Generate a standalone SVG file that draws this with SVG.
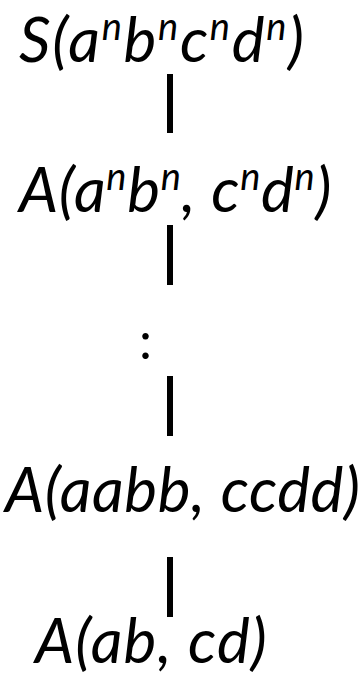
<svg xmlns="http://www.w3.org/2000/svg" width="364" height="677" viewBox="0 0 364 677">
<style>
.t{font-family:Lato,"Open Sans","Liberation Sans",sans-serif;font-style:italic;font-size:62px;fill:#000}
.u{font-style:normal;font-size:52px}
.s{font-size:38px}
.bar{fill:#000}
</style>
<rect width="364" height="677" fill="#fff"/>
<g id="connectors">
<rect class="bar" x="167" y="74" width="6" height="59"/>
<rect class="bar" x="167" y="225" width="6" height="60"/>
<rect class="bar" x="167" y="376" width="6" height="60"/>
<rect class="bar" x="167" y="557" width="6" height="60"/>
</g>
<g id="n1"><text class="t" x="19" y="62" letter-spacing="1.7">S(a<tspan class="s" dy="-22">n</tspan><tspan dy="22">b</tspan><tspan class="s" dy="-22">n</tspan><tspan dy="22">c</tspan><tspan class="s" dy="-22">n</tspan><tspan dy="22">d</tspan><tspan class="s" dy="-22">n</tspan><tspan dy="22">)</tspan></text></g>
<g id="n2"><text class="t" x="19" y="212" letter-spacing="0.7">A(a<tspan class="s" dy="-22">n</tspan><tspan dy="22">b</tspan><tspan class="s" dy="-22">n</tspan><tspan dy="22">, c</tspan><tspan class="s" dy="-22">n</tspan><tspan dy="22">d</tspan><tspan class="s" dy="-22">n</tspan><tspan dy="22">)</tspan></text></g>
<g id="n3"><text class="t u" x="139" y="359">:</text></g>
<g id="n4"><text class="t" x="5" y="512" letter-spacing="0.6">A(aabb, ccdd)</text></g>
<g id="n5"><text class="t" x="35" y="663" letter-spacing="1.1">A(ab, cd)</text></g>
</svg>
